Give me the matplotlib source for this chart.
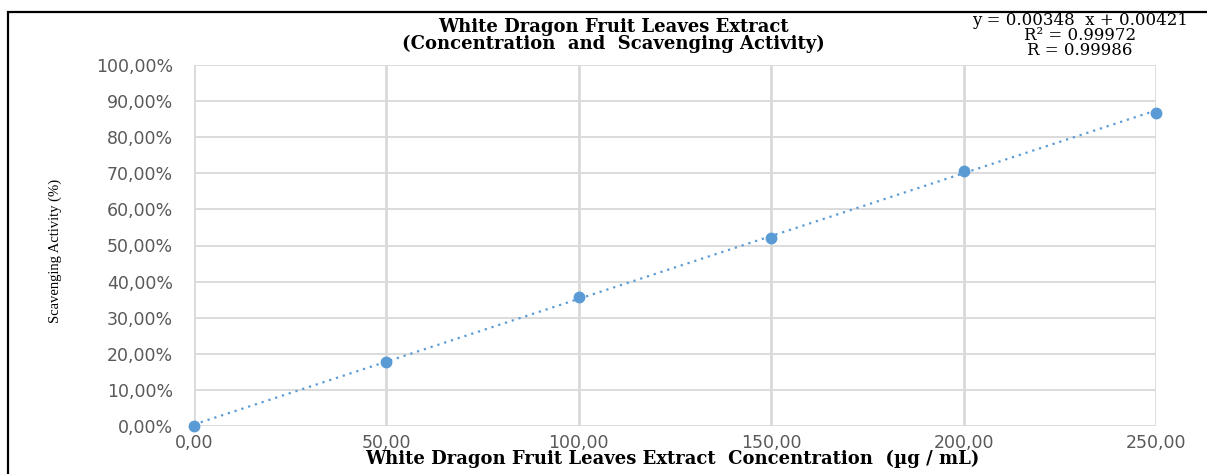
import numpy as np
import matplotlib
matplotlib.use("Agg")
import matplotlib.pyplot as plt
from matplotlib.patches import Rectangle
from matplotlib.ticker import FixedLocator, FuncFormatter

# Concentration (µg/mL) and scavenging activity (fraction)
concentration = [0, 50, 100, 150, 200, 250]
scavenging = [0.0, 0.177, 0.357, 0.520, 0.706, 0.868]

# Linear trendline coefficients and fit statistics
slope = 0.00348
intercept = 0.00421
r_squared = 0.99972
r_value = 0.99986

x_ticks = [0, 50, 100, 150, 200, 250]
y_ticks = [0.0, 0.1, 0.2, 0.3, 0.4, 0.5, 0.6, 0.7, 0.8, 0.9, 1.0]

W, H = 1207, 474
fig = plt.figure(figsize=(W / 100, H / 100), dpi=100)
fig.patch.set_facecolor("white")

def fx(px):
    return px / W

def fy(py):
    return 1 - py / H

ax = fig.add_axes([fx(194), fy(426), fx(1156) - fx(194), fy(65) - fy(426)])

blue = "#5B9BD5"
grid_c = "#D9D9D9"
tick_c = "#595959"

# Trendline from the stated equation
xs = np.array([x_ticks[0], x_ticks[-1]], dtype=float)
ax.plot(xs, slope * xs + intercept, color=blue, lw=1.6,
        linestyle=(0, (1, 2.2)), zorder=3, clip_on=False)

ax.plot(concentration, scavenging, linestyle="none", marker="o",
        markersize=7.5, color=blue, zorder=4, clip_on=False)

ax.set_xlim(0, 250)
ax.set_ylim(0, 1.0)
ax.xaxis.set_major_locator(FixedLocator(x_ticks))
ax.yaxis.set_major_locator(FixedLocator(y_ticks))
ax.xaxis.set_major_formatter(FuncFormatter(lambda v, p: f"{v:.2f}".replace(".", ",")))
ax.yaxis.set_major_formatter(FuncFormatter(lambda v, p: f"{v * 100:.2f}".replace(".", ",") + "%"))

ax.grid(True, axis="x", color=grid_c, lw=2.0)
ax.grid(True, axis="y", color=grid_c, lw=1.3)
ax.set_axisbelow(True)
for s in ax.spines.values():
    s.set_visible(False)
ax.tick_params(axis="both", length=0, colors=tick_c, labelsize=12.5)
ax.tick_params(axis="y", pad=15)
ax.tick_params(axis="x", pad=6)
for lab in ax.get_xticklabels() + ax.get_yticklabels():
    lab.set_fontfamily("DejaVu Sans")

# Title
fig.text(fx(613), fy(35.5),
         "White Dragon Fruit Leaves Extract\n(Concentration  and  Scavenging Activity)",
         ha="center", va="center", family="DejaVu Serif", weight="bold",
         fontsize=13, linespacing=0.9)

# Regression equation
fig.text(fx(1080), fy(35.5),
         f"y = {slope:.5f}  x + {intercept:.5f}\nR² = {r_squared:.5f}\nR = {r_value:.5f}",
         ha="center", va="center", family="DejaVu Serif", fontsize=12,
         linespacing=0.82)

# Axis labels
fig.text(fx(672), fy(459),
         "White Dragon Fruit Leaves Extract  Concentration  (µg / mL)",
         ha="center", va="center", family="DejaVu Serif", weight="bold",
         fontsize=13)
fig.text(fx(55), fy(251), "Scavenging Activity (%)", rotation=90,
         ha="center", va="center", family="Liberation Serif", fontsize=10.5)

# Outer frame
fig.add_artist(Rectangle((fx(8), -0.1), 1.2, fy(12) + 0.1, fill=False,
                         edgecolor="black", lw=1.6, transform=fig.transFigure,
                         clip_on=False))

fig.savefig("out.png", dpi=100, facecolor="white")
